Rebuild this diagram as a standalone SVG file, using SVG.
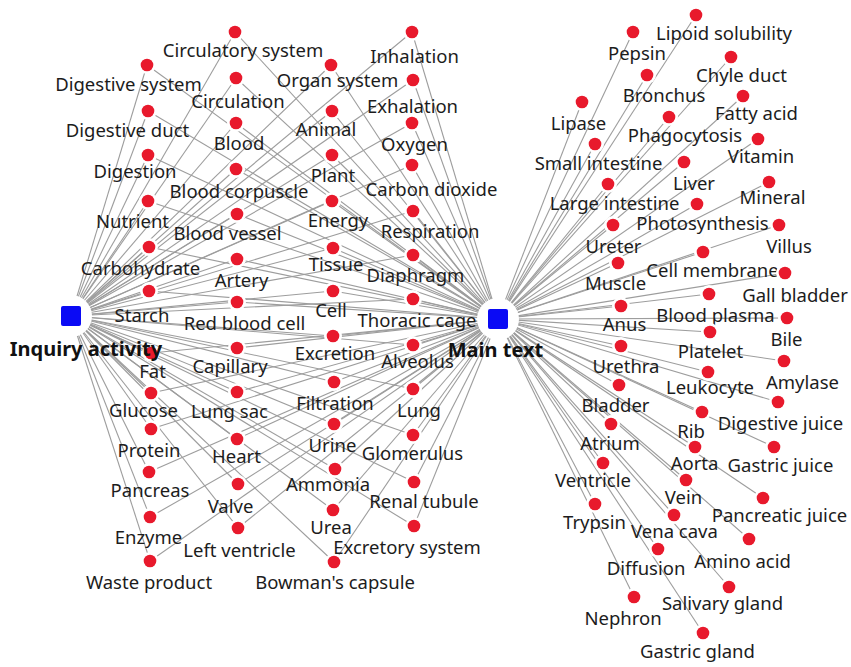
<svg xmlns="http://www.w3.org/2000/svg" xmlns:xlink="http://www.w3.org/1999/xlink" width="851" height="667" viewBox="0 0 851 667">
<style>
  .e { stroke: #9d9d9d; stroke-width: 1.1; fill: none; }
  text { font-family: "Noto Sans", "Liberation Sans", sans-serif; font-size: 18.5px; fill: #1c1c1c; text-anchor: middle; }
  .hub text { font-weight: bold; font-size: 20px; fill: #111111; }
  .halo { fill: #ffffff; }
  .dot { fill: #e8192c; }
  .sq { fill: #0a0af5; }
</style>
<defs>
  <g id="pt"><circle class="halo" r="9"/><circle class="dot" r="6.3"/></g>
  <g id="hubmark"><circle class="halo" r="21"/><rect class="sq" x="-10" y="-10" width="20" height="20" rx="2"/></g>
</defs>
<rect width="851" height="667" fill="#ffffff"/>

<!-- connectors: Inquiry activity (71,316) and Main text (498,319) -->
<g id="edges">
  <!-- from Inquiry activity -->
  <line class="e" x1="71" y1="316" x2="147" y2="65"/>
  <line class="e" x1="71" y1="316" x2="148" y2="111"/>
  <line class="e" x1="71" y1="316" x2="148" y2="155"/>
  <line class="e" x1="71" y1="316" x2="148" y2="201"/>
  <line class="e" x1="71" y1="316" x2="149" y2="247"/>
  <line class="e" x1="71" y1="316" x2="149" y2="291"/>
  <line class="e" x1="71" y1="316" x2="151" y2="353"/>
  <line class="e" x1="71" y1="316" x2="151" y2="393"/>
  <line class="e" x1="71" y1="316" x2="151" y2="429"/>
  <line class="e" x1="71" y1="316" x2="149" y2="472"/>
  <line class="e" x1="71" y1="316" x2="150" y2="517"/>
  <line class="e" x1="71" y1="316" x2="150" y2="561"/>
  <line class="e" x1="71" y1="316" x2="235" y2="32"/>
  <line class="e" x1="71" y1="316" x2="236" y2="78"/>
  <line class="e" x1="71" y1="316" x2="236" y2="123"/>
  <line class="e" x1="71" y1="316" x2="236" y2="169"/>
  <line class="e" x1="71" y1="316" x2="237" y2="214"/>
  <line class="e" x1="71" y1="316" x2="237" y2="259"/>
  <line class="e" x1="71" y1="316" x2="237" y2="302"/>
  <line class="e" x1="71" y1="316" x2="237" y2="348"/>
  <line class="e" x1="71" y1="316" x2="237" y2="392"/>
  <line class="e" x1="71" y1="316" x2="237" y2="439"/>
  <line class="e" x1="71" y1="316" x2="238" y2="484"/>
  <line class="e" x1="71" y1="316" x2="238" y2="528"/>
  <line class="e" x1="71" y1="316" x2="331" y2="65"/>
  <line class="e" x1="71" y1="316" x2="332" y2="111"/>
  <line class="e" x1="71" y1="316" x2="332" y2="155"/>
  <line class="e" x1="71" y1="316" x2="332" y2="201"/>
  <line class="e" x1="71" y1="316" x2="333" y2="248"/>
  <line class="e" x1="71" y1="316" x2="333" y2="291"/>
  <line class="e" x1="71" y1="316" x2="333" y2="336"/>
  <line class="e" x1="71" y1="316" x2="334" y2="382"/>
  <line class="e" x1="71" y1="316" x2="334" y2="424"/>
  <line class="e" x1="71" y1="316" x2="335" y2="469"/>
  <line class="e" x1="71" y1="316" x2="333" y2="510"/>
  <line class="e" x1="71" y1="316" x2="334" y2="562"/>
  <line class="e" x1="71" y1="316" x2="412" y2="32"/>
  <line class="e" x1="71" y1="316" x2="413" y2="80"/>
  <line class="e" x1="71" y1="316" x2="412" y2="123"/>
  <line class="e" x1="71" y1="316" x2="412" y2="165"/>
  <line class="e" x1="71" y1="316" x2="413" y2="211"/>
  <line class="e" x1="71" y1="316" x2="413" y2="255"/>
  <line class="e" x1="71" y1="316" x2="413" y2="299"/>
  <line class="e" x1="71" y1="316" x2="413" y2="345"/>
  <line class="e" x1="71" y1="316" x2="413" y2="389"/>
  <line class="e" x1="71" y1="316" x2="413" y2="435"/>
  <line class="e" x1="71" y1="316" x2="414" y2="482"/>
  <line class="e" x1="71" y1="316" x2="414" y2="526"/>
  <!-- from Main text, shared topics -->
  <line class="e" x1="498" y1="319" x2="147" y2="65"/>
  <line class="e" x1="498" y1="319" x2="148" y2="111"/>
  <line class="e" x1="498" y1="319" x2="148" y2="155"/>
  <line class="e" x1="498" y1="319" x2="148" y2="201"/>
  <line class="e" x1="498" y1="319" x2="149" y2="247"/>
  <line class="e" x1="498" y1="319" x2="149" y2="291"/>
  <line class="e" x1="498" y1="319" x2="151" y2="353"/>
  <line class="e" x1="498" y1="319" x2="151" y2="393"/>
  <line class="e" x1="498" y1="319" x2="151" y2="429"/>
  <line class="e" x1="498" y1="319" x2="149" y2="472"/>
  <line class="e" x1="498" y1="319" x2="150" y2="517"/>
  <line class="e" x1="498" y1="319" x2="150" y2="561"/>
  <line class="e" x1="498" y1="319" x2="235" y2="32"/>
  <line class="e" x1="498" y1="319" x2="236" y2="78"/>
  <line class="e" x1="498" y1="319" x2="236" y2="123"/>
  <line class="e" x1="498" y1="319" x2="236" y2="169"/>
  <line class="e" x1="498" y1="319" x2="237" y2="214"/>
  <line class="e" x1="498" y1="319" x2="237" y2="259"/>
  <line class="e" x1="498" y1="319" x2="237" y2="302"/>
  <line class="e" x1="498" y1="319" x2="237" y2="348"/>
  <line class="e" x1="498" y1="319" x2="237" y2="392"/>
  <line class="e" x1="498" y1="319" x2="237" y2="439"/>
  <line class="e" x1="498" y1="319" x2="238" y2="484"/>
  <line class="e" x1="498" y1="319" x2="238" y2="528"/>
  <line class="e" x1="498" y1="319" x2="331" y2="65"/>
  <line class="e" x1="498" y1="319" x2="332" y2="111"/>
  <line class="e" x1="498" y1="319" x2="332" y2="155"/>
  <line class="e" x1="498" y1="319" x2="332" y2="201"/>
  <line class="e" x1="498" y1="319" x2="333" y2="248"/>
  <line class="e" x1="498" y1="319" x2="333" y2="291"/>
  <line class="e" x1="498" y1="319" x2="333" y2="336"/>
  <line class="e" x1="498" y1="319" x2="334" y2="382"/>
  <line class="e" x1="498" y1="319" x2="334" y2="424"/>
  <line class="e" x1="498" y1="319" x2="335" y2="469"/>
  <line class="e" x1="498" y1="319" x2="333" y2="510"/>
  <line class="e" x1="498" y1="319" x2="334" y2="562"/>
  <line class="e" x1="498" y1="319" x2="412" y2="32"/>
  <line class="e" x1="498" y1="319" x2="413" y2="80"/>
  <line class="e" x1="498" y1="319" x2="412" y2="123"/>
  <line class="e" x1="498" y1="319" x2="412" y2="165"/>
  <line class="e" x1="498" y1="319" x2="413" y2="211"/>
  <line class="e" x1="498" y1="319" x2="413" y2="255"/>
  <line class="e" x1="498" y1="319" x2="413" y2="299"/>
  <line class="e" x1="498" y1="319" x2="413" y2="345"/>
  <line class="e" x1="498" y1="319" x2="413" y2="389"/>
  <line class="e" x1="498" y1="319" x2="413" y2="435"/>
  <line class="e" x1="498" y1="319" x2="414" y2="482"/>
  <line class="e" x1="498" y1="319" x2="414" y2="526"/>
  <!-- from Main text, its own topics -->
  <line class="e" x1="498" y1="319" x2="696" y2="15"/>
  <line class="e" x1="498" y1="319" x2="633" y2="32"/>
  <line class="e" x1="498" y1="319" x2="731" y2="57"/>
  <line class="e" x1="498" y1="319" x2="647" y2="75"/>
  <line class="e" x1="498" y1="319" x2="743" y2="96"/>
  <line class="e" x1="498" y1="319" x2="582" y2="102"/>
  <line class="e" x1="498" y1="319" x2="669" y2="117"/>
  <line class="e" x1="498" y1="319" x2="758" y2="139"/>
  <line class="e" x1="498" y1="319" x2="595" y2="144"/>
  <line class="e" x1="498" y1="319" x2="684" y2="162"/>
  <line class="e" x1="498" y1="319" x2="608" y2="184"/>
  <line class="e" x1="498" y1="319" x2="769" y2="182"/>
  <line class="e" x1="498" y1="319" x2="697" y2="204"/>
  <line class="e" x1="498" y1="319" x2="613" y2="225"/>
  <line class="e" x1="498" y1="319" x2="779" y2="225"/>
  <line class="e" x1="498" y1="319" x2="703" y2="252"/>
  <line class="e" x1="498" y1="319" x2="618" y2="263"/>
  <line class="e" x1="498" y1="319" x2="785" y2="273"/>
  <line class="e" x1="498" y1="319" x2="709" y2="294"/>
  <line class="e" x1="498" y1="319" x2="621" y2="306"/>
  <line class="e" x1="498" y1="319" x2="787" y2="318"/>
  <line class="e" x1="498" y1="319" x2="710" y2="332"/>
  <line class="e" x1="498" y1="319" x2="621" y2="346"/>
  <line class="e" x1="498" y1="319" x2="784" y2="361"/>
  <line class="e" x1="498" y1="319" x2="708" y2="372"/>
  <line class="e" x1="498" y1="319" x2="619" y2="385"/>
  <line class="e" x1="498" y1="319" x2="778" y2="402"/>
  <line class="e" x1="498" y1="319" x2="702" y2="412"/>
  <line class="e" x1="498" y1="319" x2="611" y2="424"/>
  <line class="e" x1="498" y1="319" x2="695" y2="447"/>
  <line class="e" x1="498" y1="319" x2="774" y2="447"/>
  <line class="e" x1="498" y1="319" x2="603" y2="463"/>
  <line class="e" x1="498" y1="319" x2="686" y2="480"/>
  <line class="e" x1="498" y1="319" x2="763" y2="498"/>
  <line class="e" x1="498" y1="319" x2="595" y2="504"/>
  <line class="e" x1="498" y1="319" x2="674" y2="515"/>
  <line class="e" x1="498" y1="319" x2="749" y2="539"/>
  <line class="e" x1="498" y1="319" x2="658" y2="549"/>
  <line class="e" x1="498" y1="319" x2="729" y2="587"/>
  <line class="e" x1="498" y1="319" x2="634" y2="597"/>
  <line class="e" x1="498" y1="319" x2="703" y2="633"/>
</g>

<!-- shared topic nodes, column 1 -->
<g id="n-digestive-system"><use xlink:href="#pt" x="147" y="65"/><text x="128.5" y="91">Digestive system</text></g>
<g id="n-digestive-duct"><use xlink:href="#pt" x="148" y="111"/><text x="127.5" y="137">Digestive duct</text></g>
<g id="n-digestion"><use xlink:href="#pt" x="148" y="155"/><text x="135" y="178">Digestion</text></g>
<g id="n-nutrient"><use xlink:href="#pt" x="148" y="201"/><text x="132.5" y="228">Nutrient</text></g>
<g id="n-carbohydrate"><use xlink:href="#pt" x="149" y="247"/><text x="140.5" y="275">Carbohydrate</text></g>
<g id="n-starch"><use xlink:href="#pt" x="149" y="291"/><text x="142" y="322">Starch</text></g>
<g id="n-fat"><use xlink:href="#pt" x="151" y="353"/><text x="152.5" y="378">Fat</text></g>
<g id="n-glucose"><use xlink:href="#pt" x="151" y="393"/><text x="143.5" y="417">Glucose</text></g>
<g id="n-protein"><use xlink:href="#pt" x="151" y="429"/><text x="149" y="457">Protein</text></g>
<g id="n-pancreas"><use xlink:href="#pt" x="149" y="472"/><text x="150" y="497">Pancreas</text></g>
<g id="n-enzyme"><use xlink:href="#pt" x="150" y="517"/><text x="148.5" y="544">Enzyme</text></g>
<g id="n-waste-product"><use xlink:href="#pt" x="150" y="561"/><text x="149" y="589">Waste product</text></g>

<!-- shared topic nodes, column 2 -->
<g id="n-circulatory-system"><use xlink:href="#pt" x="235" y="32"/><text x="243" y="57">Circulatory system</text></g>
<g id="n-circulation"><use xlink:href="#pt" x="236" y="78"/><text x="238" y="108">Circulation</text></g>
<g id="n-blood"><use xlink:href="#pt" x="236" y="123"/><text x="239" y="150">Blood</text></g>
<g id="n-blood-corpuscle"><use xlink:href="#pt" x="236" y="169"/><text x="239" y="198">Blood corpuscle</text></g>
<g id="n-blood-vessel"><use xlink:href="#pt" x="237" y="214"/><text x="227.5" y="240">Blood vessel</text></g>
<g id="n-artery"><use xlink:href="#pt" x="237" y="259"/><text x="241.5" y="287">Artery</text></g>
<g id="n-red-blood-cell"><use xlink:href="#pt" x="237" y="302"/><text x="244.5" y="330">Red blood cell</text></g>
<g id="n-capillary"><use xlink:href="#pt" x="237" y="348"/><text x="230" y="373">Capillary</text></g>
<g id="n-lung-sac"><use xlink:href="#pt" x="237" y="392"/><text x="229.5" y="418">Lung sac</text></g>
<g id="n-heart"><use xlink:href="#pt" x="237" y="439"/><text x="236.5" y="463">Heart</text></g>
<g id="n-valve"><use xlink:href="#pt" x="238" y="484"/><text x="230.5" y="513">Valve</text></g>
<g id="n-left-ventricle"><use xlink:href="#pt" x="238" y="528"/><text x="239.5" y="557">Left ventricle</text></g>

<!-- shared topic nodes, column 3 -->
<g id="n-organ-system"><use xlink:href="#pt" x="331" y="65"/><text x="337.5" y="87">Organ system</text></g>
<g id="n-animal"><use xlink:href="#pt" x="332" y="111"/><text x="326" y="136">Animal</text></g>
<g id="n-plant"><use xlink:href="#pt" x="332" y="155"/><text x="333" y="182">Plant</text></g>
<g id="n-energy"><use xlink:href="#pt" x="332" y="201"/><text x="338" y="227">Energy</text></g>
<g id="n-tissue"><use xlink:href="#pt" x="333" y="248"/><text x="336" y="271">Tissue</text></g>
<g id="n-cell"><use xlink:href="#pt" x="333" y="291"/><text x="331" y="317">Cell</text></g>
<g id="n-excretion"><use xlink:href="#pt" x="333" y="336"/><text x="335" y="360">Excretion</text></g>
<g id="n-filtration"><use xlink:href="#pt" x="334" y="382"/><text x="335" y="410">Filtration</text></g>
<g id="n-urine"><use xlink:href="#pt" x="334" y="424"/><text x="332.5" y="452">Urine</text></g>
<g id="n-ammonia"><use xlink:href="#pt" x="335" y="469"/><text x="328" y="491">Ammonia</text></g>
<g id="n-urea"><use xlink:href="#pt" x="333" y="510"/><text x="331" y="534">Urea</text></g>
<g id="n-bowmans-capsule"><use xlink:href="#pt" x="334" y="562"/><text x="335" y="589">Bowman's capsule</text></g>

<!-- shared topic nodes, column 4 -->
<g id="n-inhalation"><use xlink:href="#pt" x="412" y="32"/><text x="414.5" y="63">Inhalation</text></g>
<g id="n-exhalation"><use xlink:href="#pt" x="413" y="80"/><text x="412.5" y="113">Exhalation</text></g>
<g id="n-oxygen"><use xlink:href="#pt" x="412" y="123"/><text x="414.5" y="151">Oxygen</text></g>
<g id="n-carbon-dioxide"><use xlink:href="#pt" x="412" y="165"/><text x="431.5" y="196">Carbon dioxide</text></g>
<g id="n-respiration"><use xlink:href="#pt" x="413" y="211"/><text x="430" y="238">Respiration</text></g>
<g id="n-diaphragm"><use xlink:href="#pt" x="413" y="255"/><text x="415.5" y="282">Diaphragm</text></g>
<g id="n-thoracic-cage"><use xlink:href="#pt" x="413" y="299"/><text x="417" y="327">Thoracic cage</text></g>
<g id="n-alveolus"><use xlink:href="#pt" x="413" y="345"/><text x="417.5" y="368">Alveolus</text></g>
<g id="n-lung"><use xlink:href="#pt" x="413" y="389"/><text x="419" y="417">Lung</text></g>
<g id="n-glomerulus"><use xlink:href="#pt" x="413" y="435"/><text x="412.5" y="460">Glomerulus</text></g>
<g id="n-renal-tubule"><use xlink:href="#pt" x="414" y="482"/><text x="424" y="508">Renal tubule</text></g>
<g id="n-excretory-system"><use xlink:href="#pt" x="414" y="526"/><text x="407" y="554">Excretory system</text></g>

<!-- Main text only nodes -->
<g id="n-lipoid-solubility"><use xlink:href="#pt" x="696" y="15"/><text x="724" y="40">Lipoid solubility</text></g>
<g id="n-pepsin"><use xlink:href="#pt" x="633" y="32"/><text x="637" y="60">Pepsin</text></g>
<g id="n-chyle-duct"><use xlink:href="#pt" x="731" y="57"/><text x="741.5" y="82">Chyle duct</text></g>
<g id="n-bronchus"><use xlink:href="#pt" x="647" y="75"/><text x="664" y="102">Bronchus</text></g>
<g id="n-fatty-acid"><use xlink:href="#pt" x="743" y="96"/><text x="756.5" y="120">Fatty acid</text></g>
<g id="n-lipase"><use xlink:href="#pt" x="582" y="102"/><text x="578.5" y="130">Lipase</text></g>
<g id="n-phagocytosis"><use xlink:href="#pt" x="669" y="117"/><text x="685" y="142">Phagocytosis</text></g>
<g id="n-vitamin"><use xlink:href="#pt" x="758" y="139"/><text x="761" y="163">Vitamin</text></g>
<g id="n-small-intestine"><use xlink:href="#pt" x="595" y="144"/><text x="598.5" y="170">Small intestine</text></g>
<g id="n-liver"><use xlink:href="#pt" x="684" y="162"/><text x="694" y="190">Liver</text></g>
<g id="n-large-intestine"><use xlink:href="#pt" x="608" y="184"/><text x="614.5" y="210">Large intestine</text></g>
<g id="n-mineral"><use xlink:href="#pt" x="769" y="182"/><text x="772.5" y="204">Mineral</text></g>
<g id="n-photosynthesis"><use xlink:href="#pt" x="697" y="204"/><text x="702.5" y="230">Photosynthesis</text></g>
<g id="n-ureter"><use xlink:href="#pt" x="613" y="225"/><text x="613.5" y="253">Ureter</text></g>
<g id="n-villus"><use xlink:href="#pt" x="779" y="225"/><text x="789" y="253">Villus</text></g>
<g id="n-cell-membrane"><use xlink:href="#pt" x="703" y="252"/><text x="712.5" y="277">Cell membrane</text></g>
<g id="n-muscle"><use xlink:href="#pt" x="618" y="263"/><text x="615.5" y="290">Muscle</text></g>
<g id="n-gall-bladder"><use xlink:href="#pt" x="785" y="273"/><text x="795" y="302">Gall bladder</text></g>
<g id="n-blood-plasma"><use xlink:href="#pt" x="709" y="294"/><text x="715.5" y="322">Blood plasma</text></g>
<g id="n-anus"><use xlink:href="#pt" x="621" y="306"/><text x="624.5" y="331">Anus</text></g>
<g id="n-bile"><use xlink:href="#pt" x="787" y="318"/><text x="786.5" y="346">Bile</text></g>
<g id="n-platelet"><use xlink:href="#pt" x="710" y="332"/><text x="710.5" y="358">Platelet</text></g>
<g id="n-urethra"><use xlink:href="#pt" x="621" y="346"/><text x="626" y="373">Urethra</text></g>
<g id="n-amylase"><use xlink:href="#pt" x="784" y="361"/><text x="802.5" y="389">Amylase</text></g>
<g id="n-leukocyte"><use xlink:href="#pt" x="708" y="372"/><text x="710" y="394">Leukocyte</text></g>
<g id="n-bladder"><use xlink:href="#pt" x="619" y="385"/><text x="615.5" y="412">Bladder</text></g>
<g id="n-digestive-juice"><use xlink:href="#pt" x="778" y="402"/><text x="780.5" y="430">Digestive juice</text></g>
<g id="n-rib"><use xlink:href="#pt" x="702" y="412"/><text x="691" y="438">Rib</text></g>
<g id="n-atrium"><use xlink:href="#pt" x="611" y="424"/><text x="610" y="450">Atrium</text></g>
<g id="n-aorta"><use xlink:href="#pt" x="695" y="447"/><text x="694.5" y="470">Aorta</text></g>
<g id="n-gastric-juice"><use xlink:href="#pt" x="774" y="447"/><text x="780.5" y="472">Gastric juice</text></g>
<g id="n-ventricle"><use xlink:href="#pt" x="603" y="463"/><text x="593" y="487">Ventricle</text></g>
<g id="n-vein"><use xlink:href="#pt" x="686" y="480"/><text x="683.5" y="504">Vein</text></g>
<g id="n-pancreatic-juice"><use xlink:href="#pt" x="763" y="498"/><text x="779.5" y="522">Pancreatic juice</text></g>
<g id="n-trypsin"><use xlink:href="#pt" x="595" y="504"/><text x="594.5" y="529">Trypsin</text></g>
<g id="n-vena-cava"><use xlink:href="#pt" x="674" y="515"/><text x="674.5" y="538">Vena cava</text></g>
<g id="n-amino-acid"><use xlink:href="#pt" x="749" y="539"/><text x="742.5" y="568">Amino acid</text></g>
<g id="n-diffusion"><use xlink:href="#pt" x="658" y="549"/><text x="646" y="575">Diffusion</text></g>
<g id="n-salivary-gland"><use xlink:href="#pt" x="729" y="587"/><text x="722.5" y="610">Salivary gland</text></g>
<g id="n-nephron"><use xlink:href="#pt" x="634" y="597"/><text x="623" y="625">Nephron</text></g>
<g id="n-gastric-gland"><use xlink:href="#pt" x="703" y="633"/><text x="697.5" y="658">Gastric gland</text></g>

<!-- hubs -->
<g id="hub-inquiry-activity" class="hub"><use xlink:href="#hubmark" x="71" y="316"/><text x="86" y="356">Inquiry activity</text></g>
<g id="hub-main-text" class="hub"><use xlink:href="#hubmark" x="498" y="319"/><text x="495.5" y="357">Main text</text></g>
</svg>
